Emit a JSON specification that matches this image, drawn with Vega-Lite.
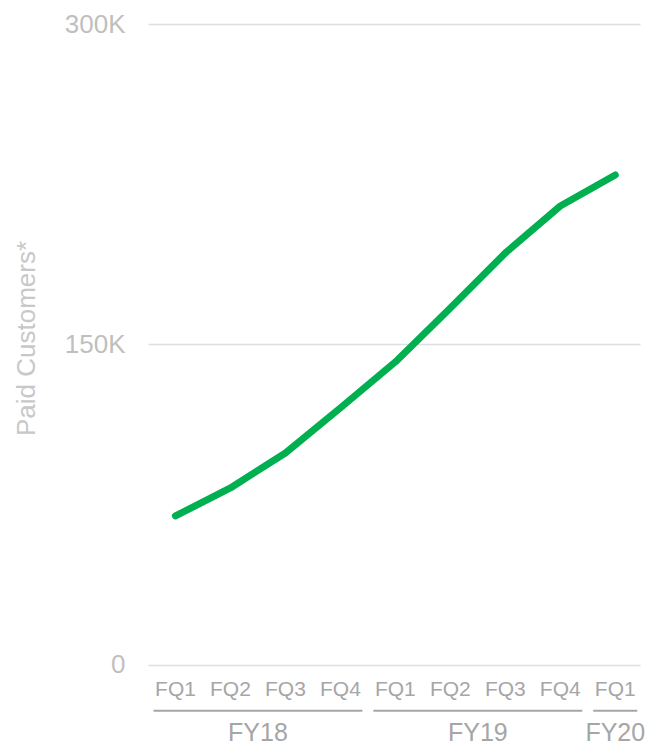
{
  "$schema": "https://vega.github.io/schema/vega-lite/v6.json",
  "width": 492,
  "height": 722,
  "autosize": {"type": "none"},
  "padding": {"left": 148, "top": 24, "right": 5, "bottom": 0},
  "background": "white",
  "config": {"view": {"stroke": null}, "font": "Liberation Sans"},
  "data": {
    "values": [
      {"idx": 1, "fy": "FY18", "quarter": "FQ1", "customers": 69700},
      {"idx": 2, "fy": "FY18", "quarter": "FQ2", "customers": 82800},
      {"idx": 3, "fy": "FY18", "quarter": "FQ3", "customers": 99200},
      {"idx": 4, "fy": "FY18", "quarter": "FQ4", "customers": 120300},
      {"idx": 5, "fy": "FY19", "quarter": "FQ1", "customers": 141800},
      {"idx": 6, "fy": "FY19", "quarter": "FQ2", "customers": 167000},
      {"idx": 7, "fy": "FY19", "quarter": "FQ3", "customers": 192800},
      {"idx": 8, "fy": "FY19", "quarter": "FQ4", "customers": 214800},
      {"idx": 9, "fy": "FY20", "quarter": "FQ1", "customers": 229300}
    ]
  },
  "layer": [
    {
      "mark": {"type": "line", "color": "#00b050", "strokeWidth": 7, "strokeCap": "round", "strokeJoin": "round"},
      "encoding": {
        "x": {"field": "idx", "type": "quantitative", "scale": {"domain": [0.5, 9.45], "nice": false, "zero": false}, "axis": null},
        "y": {
          "field": "customers",
          "type": "quantitative",
          "scale": {"domain": [-38000, 300000], "nice": false, "zero": false},
          "axis": {
            "title": "Paid Customers*",
            "values": [0, 150000, 300000],
            "labelExpr": "datum.value == 0 ? '0' : (datum.value / 1000) + 'K'",
            "domain": false,
            "ticks": false,
            "grid": true,
            "gridColor": "#dcdfe3",
            "gridWidth": 1.5,
            "labelFont": "Liberation Sans",
            "labelFontSize": 26,
            "labelColor": "#bfbfbf",
            "labelPadding": 23,
            "titleFont": "Liberation Sans",
            "titleFontSize": 26,
            "titleFontWeight": "normal",
            "titleColor": "#c8c8c8",
            "titleAngle": -90,
            "titleAlign": "center",
            "titleBaseline": "alphabetic",
            "titleX": -114,
            "titleY": 314
          }
        }
      }
    },
    {
      "mark": {"type": "text", "font": "Liberation Sans", "fontSize": 21, "color": "#a6a6a6", "baseline": "middle", "align": "center"},
      "encoding": {
        "x": {"field": "idx", "type": "quantitative"},
        "y": {"datum": -11700, "type": "quantitative"},
        "text": {"field": "quarter"}
      }
    },
    {
      "transform": [
        {"aggregate": [
          {"op": "min", "field": "idx", "as": "first"},
          {"op": "max", "field": "idx", "as": "last"},
          {"op": "mean", "field": "idx", "as": "mid"}
        ], "groupby": ["fy"]}
      ],
      "layer": [
        {
          "mark": {"type": "rule", "color": "#a6a6a6", "strokeWidth": 2, "xOffset": -22, "x2Offset": 22},
          "encoding": {
            "x": {"field": "first", "type": "quantitative"},
            "x2": {"field": "last"},
            "y": {"datum": -21500, "type": "quantitative"}
          }
        },
        {
          "mark": {"type": "text", "font": "Liberation Sans", "fontSize": 25, "color": "#a6a6a6", "baseline": "middle", "align": "center"},
          "encoding": {
            "x": {"field": "mid", "type": "quantitative"},
            "y": {"datum": -32000, "type": "quantitative"},
            "text": {"field": "fy"}
          }
        }
      ]
    }
  ]
}
